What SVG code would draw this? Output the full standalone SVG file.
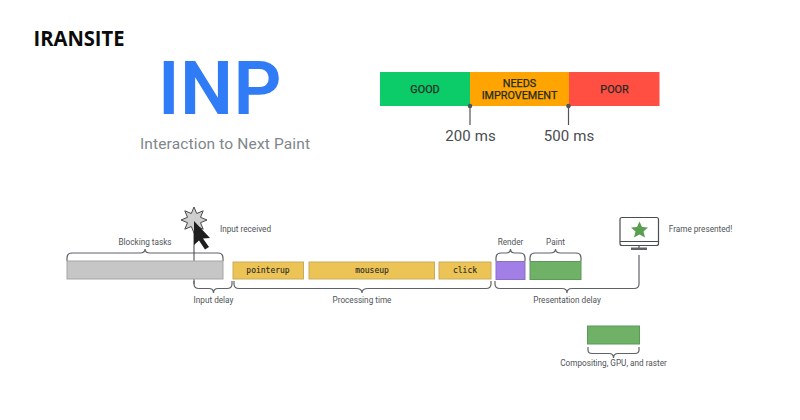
<svg xmlns="http://www.w3.org/2000/svg" width="800" height="420" viewBox="0 0 800 420">
<style>
text{font-family:Roboto,"Open Sans",sans-serif;fill:#4f5357}
.s{font-size:8.200px;text-anchor:middle}
.m{font-family:"DejaVu Sans Mono","Liberation Mono",monospace;font-size:8px;text-anchor:middle;fill:#2a2a2a;stroke:#2a2a2a;stroke-width:.1px}
.b{font-size:10.800px;text-anchor:middle;fill:#1d2b24;stroke:#1d2b24;stroke-width:.25px}
.t{font-size:15px;letter-spacing:.1px;text-anchor:middle;fill:#4a4d50}
.br{fill:none;stroke:#5f6368;stroke-width:1.200}
.y{fill:#ecc355;stroke:#c9ab5e;stroke-width:1}
.g{fill:#6fb166;stroke:#5d9a58;stroke-width:1}
</style>
<rect width="800" height="420" fill="#fff"/>
<g id="brand"><text x="33.500" y="45.500" font-size="20.500" font-weight="700" textLength="91" lengthAdjust="spacingAndGlyphs" style="font-family:'Open Sans',sans-serif;fill:#0b0b0b">IRANSITE</text></g>
<g id="title">
<text x="158" y="114" font-size="75" font-weight="600" textLength="123.500" style="fill:#2f7cf6">INP</text>
<text x="140" y="149" font-size="15.500" textLength="170" style="fill:#80868b">Interaction to Next Paint</text>
</g>
<g id="scale-good"><rect x="380" y="72" width="90" height="34" fill="#0ccb69"/><text class="b" x="425" y="92.500">GOOD</text></g>
<g id="scale-needs"><rect x="470" y="72" width="99" height="34" fill="#ffa400"/><text class="b" x="519.500" y="86.500">NEEDS</text><text class="b" x="519.500" y="99">IMPROVEMENT</text></g>
<g id="scale-poor"><rect x="569" y="72" width="90.500" height="34" fill="#ff4e42"/><text class="b" x="614.500" y="92.500">POOR</text></g>
<g id="tick-200"><circle cx="470" cy="106" r="2.300" fill="#50545a"/><path d="M470 106V125" stroke="#50545a" stroke-width="1.200"/><text class="t" x="470.500" y="141">200 ms</text></g>
<g id="tick-500"><circle cx="568.500" cy="106" r="2.300" fill="#50545a"/><path d="M568.500 106V125" stroke="#50545a" stroke-width="1.200"/><text class="t" x="569" y="141">500 ms</text></g>
<g id="connectors">
<path class="br" d="M67 261V258Q67 253 72 253H140Q145 253 145 249Q145 253 150 253H218Q223 253 223 258V261"/>
<path d="M194 229V284" stroke="#3c4043" stroke-width="1" fill="none"/>
<path class="br" d="M194 281V284Q194 288.500 199 288.500H209Q213.500 288.500 213.500 293Q213.500 288.500 218 288.500H227Q232 288.500 232 284V281"/>
<path class="br" d="M234 281V284Q234 288.500 239 288.500H356Q362 288.500 362 293Q362 288.500 368 288.500H486Q491 288.500 491 284V281"/>
<path class="br" d="M495 281V284Q495 288.500 500 288.500H562Q567 288.500 567 293Q567 288.500 572 288.500H634Q639 288.500 639 284V255"/>
<path class="br" d="M496 261V258Q496 253 501 253H506Q510.500 253 510.500 249Q510.500 253 515 253H520Q525 253 525 258V261"/>
<path class="br" d="M530 261V258Q530 253 535 253H550Q555.500 253 555.500 249Q555.500 253 561 253H576Q581 253 581 258V261"/>
<path class="br" d="M588 347V350Q588 353.500 592 353.500H609Q613.500 353.500 613.500 358Q613.500 353.500 618 353.500H635Q639 353.500 639 350V347"/>
</g>
<g id="blocking-tasks"><rect x="67" y="261" width="156" height="18" fill="#c6c6c6" stroke="#a5a5a5"/><text class="s" x="145" y="245">Blocking tasks</text></g>
<g id="input-received">
<polygon points="194,207 196.700,213.500 203.200,210.800 200.500,217.300 207,220 200.500,222.700 203.200,229.200 196.700,226.500 194,233 191.300,226.500 184.800,229.200 187.500,222.700 181,220 187.500,217.300 184.800,210.800 191.300,213.500" fill="#cfcfcf" stroke="#4a4a4a" stroke-width="1"/>
<polygon points="194,221 210,238 203,238.500 209,247 205,249.500 199,240.500 194,245" fill="#1f1f1f"/>
<text class="s" x="245.500" y="232">Input received</text>
</g>
<g id="input-delay"><text class="s" x="213.500" y="302.500">Input delay</text></g>
<g id="pointerup"><rect class="y" x="233" y="262" width="70.500" height="17"/><text class="m" x="268" y="273">pointerup</text></g>
<g id="mouseup"><rect class="y" x="309" y="262" width="125.500" height="17"/><text class="m" x="372" y="273">mouseup</text></g>
<g id="click"><rect class="y" x="439" y="262" width="52" height="17"/><text class="m" x="465" y="273">click</text></g>
<g id="processing-time"><text class="s" x="362" y="302.500">Processing time</text></g>
<g id="render"><rect x="496" y="261.500" width="29" height="18" fill="#a17fe6" stroke="#8a70c4"/><text class="s" x="510.500" y="245">Render</text></g>
<g id="paint"><rect class="g" x="530" y="261.500" width="51" height="18"/><text class="s" x="555.500" y="245">Paint</text></g>
<g id="presentation-delay"><text class="s" x="567" y="302.500">Presentation delay</text></g>
<g id="frame">
<rect x="620" y="217.500" width="38.500" height="28" rx="2" fill="#fff" stroke="#4a4d50" stroke-width="1.200"/>
<path d="M620 241.500H658.500M639 245.500V248" stroke="#4a4d50" stroke-width="1.200" fill="none"/>
<rect x="631" y="247.500" width="16" height="2.500" fill="#5f6368"/>
<polygon points="639.500,221.500 642,227 648,227.500 643.500,231.500 645,237.500 639.500,234.500 634,237.500 635.500,231.500 631,227.500 637,227" fill="#5a9e50"/>
<text class="s" x="700.500" y="232">Frame presented!</text>
</g>
<g id="compositing"><rect class="g" x="587.500" y="326" width="52" height="18"/><text class="s" x="613.500" y="366">Compositing, GPU, and raster</text></g>
</svg>
